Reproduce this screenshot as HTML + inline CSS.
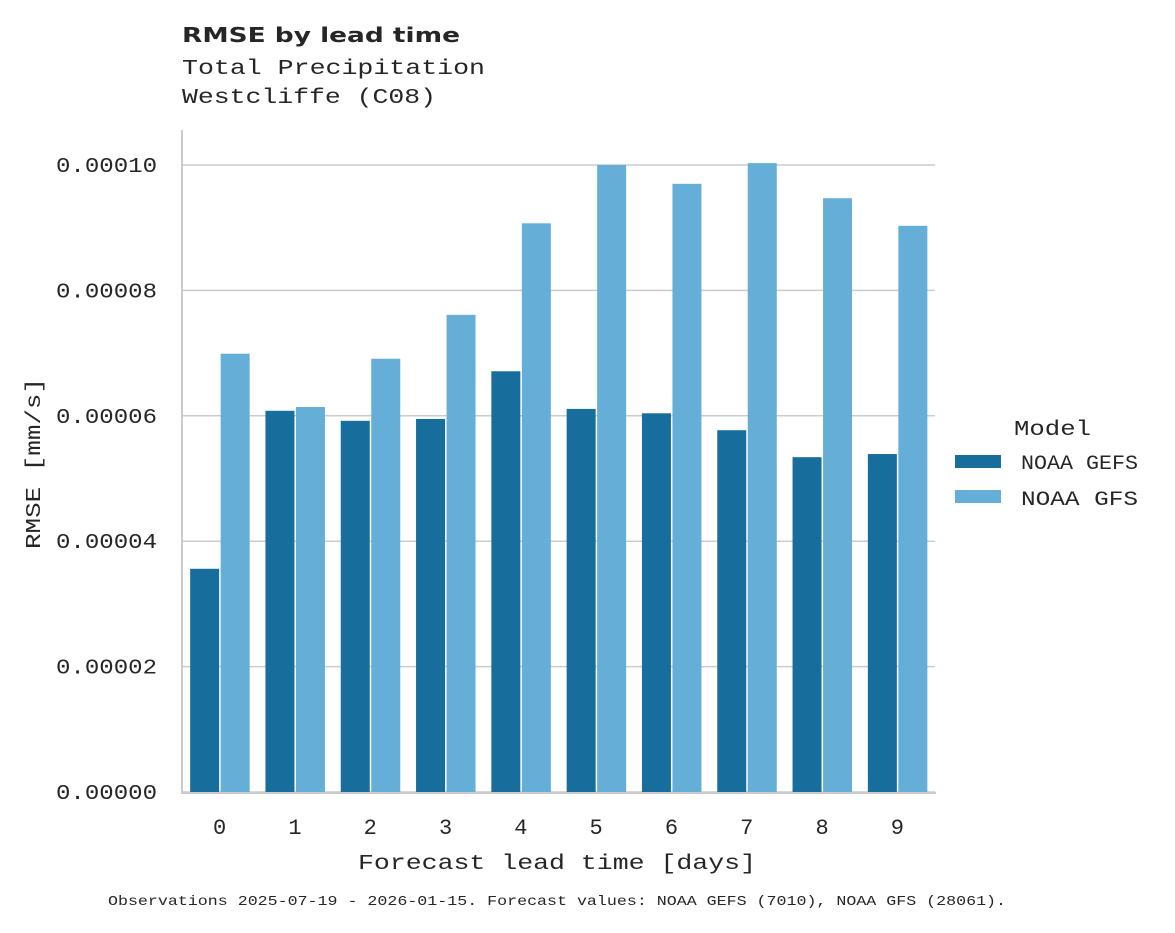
<!DOCTYPE html>
<html><head><meta charset="utf-8"><style>
body{margin:0;background:#fff;}
svg text{font-family:"Liberation Mono",monospace;fill:#262626;}
</style></head><body>
<svg id="chart" width="1175" height="928" xmlns="http://www.w3.org/2000/svg">
<text x="182" y="42" textLength="278" lengthAdjust="spacingAndGlyphs" style="font-family:'DejaVu Sans',sans-serif;font-weight:bold;font-size:20px">RMSE by lead time</text>
<text x="182" y="74" font-size="21" textLength="303" lengthAdjust="spacingAndGlyphs">Total Precipitation</text>
<text x="182" y="103" font-size="21" textLength="254" lengthAdjust="spacingAndGlyphs">Westcliffe (C08)</text>
<g id="grid"></g><g id="bars"></g><g id="axes"></g>
<text x="358" y="869" font-size="21" textLength="398" lengthAdjust="spacingAndGlyphs">Forecast lead time [days]</text>
<text transform="translate(40,549) rotate(-90)" font-size="21" textLength="171" lengthAdjust="spacingAndGlyphs">RMSE [mm/s]</text>
<g>
<text x="1014" y="435" font-size="21" textLength="77" lengthAdjust="spacingAndGlyphs">Model</text>
<rect x="955" y="455" width="46" height="13" fill="#176d9c"/>
<text x="1021" y="469" font-size="20" textLength="117" lengthAdjust="spacingAndGlyphs">NOAA GEFS</text>
<rect x="955" y="490" width="46" height="13" fill="#65aed7"/>
<text x="1021" y="505" font-size="20" textLength="117" lengthAdjust="spacingAndGlyphs">NOAA GFS</text>
</g>
<text x="108" y="905" font-size="14" textLength="898" lengthAdjust="spacingAndGlyphs">Observations 2025-07-19 - 2026-01-15. Forecast values: NOAA GEFS (7010), NOAA GFS (28061).</text>
</svg>
<script>
const categories=["0","1","2","3","4","5","6","7","8","9"];
const gefsValues=[3.56e-5,6.08e-5,5.92e-5,5.95e-5,6.71e-5,6.11e-5,6.04e-5,5.77e-5,5.34e-5,5.39e-5];
const gfsValues=[6.99e-5,6.14e-5,6.91e-5,7.61e-5,9.07e-5,10.0e-5,9.70e-5,10.03e-5,9.47e-5,9.03e-5];
const yTicks=[0,0.00002,0.00004,0.00006,0.00008,0.0001];
const yTickLabels=["0.00000","0.00002","0.00004","0.00006","0.00008","0.00010"];
const NS="http://www.w3.org/2000/svg";
const x0=182,x1=935,y0=792,yTop=165;
const step=(x1-x0)/categories.length;
const y=v=>y0-(v/0.0001)*(y0-yTop);
const xc=i=>x0+step*(i+0.5);
function mk(t,a,p){const e=document.createElementNS(NS,t);for(const k in a)e.setAttribute(k,a[k]);p.appendChild(e);return e;}
const grid=document.getElementById('grid'),bars=document.getElementById('bars'),axes=document.getElementById('axes');
yTicks.forEach((t,i)=>{
 const l=mk('line',{x1:x0,x2:x1,y1:y(t),y2:y(t),stroke:'#cccccc','stroke-width':1.5},grid);
 
 
 const tx=mk('text',{x:56,y:y(t)+7,'font-size':21,textLength:101,lengthAdjust:'spacingAndGlyphs'},axes);
 tx.textContent=yTickLabels[i];
 
 
});
const bw=29;
categories.forEach((c,i)=>{
 const a=mk('rect',{x:xc(i)-bw-0.5,y:y(gefsValues[i]),width:bw,height:y0-y(gefsValues[i]),fill:'#176d9c'},bars);
 
 
 const b=mk('rect',{x:xc(i)+1,y:y(gfsValues[i]),width:bw,height:y0-y(gfsValues[i]),fill:'#65aed7'},bars);
 
 
 const tx=mk('text',{x:xc(i),y:834,'font-size':22,'text-anchor':'middle'},axes);
 tx.textContent=c;
 
 
});
const ax=mk('line',{x1:x0,x2:x0,y1:130,y2:y0+1,stroke:'#cccccc','stroke-width':2},axes);


const bx=mk('line',{x1:x0-1,x2:x1+1,y1:y0+1,y2:y0+1,stroke:'#cccccc','stroke-width':2},axes);


</script>
</body></html>
